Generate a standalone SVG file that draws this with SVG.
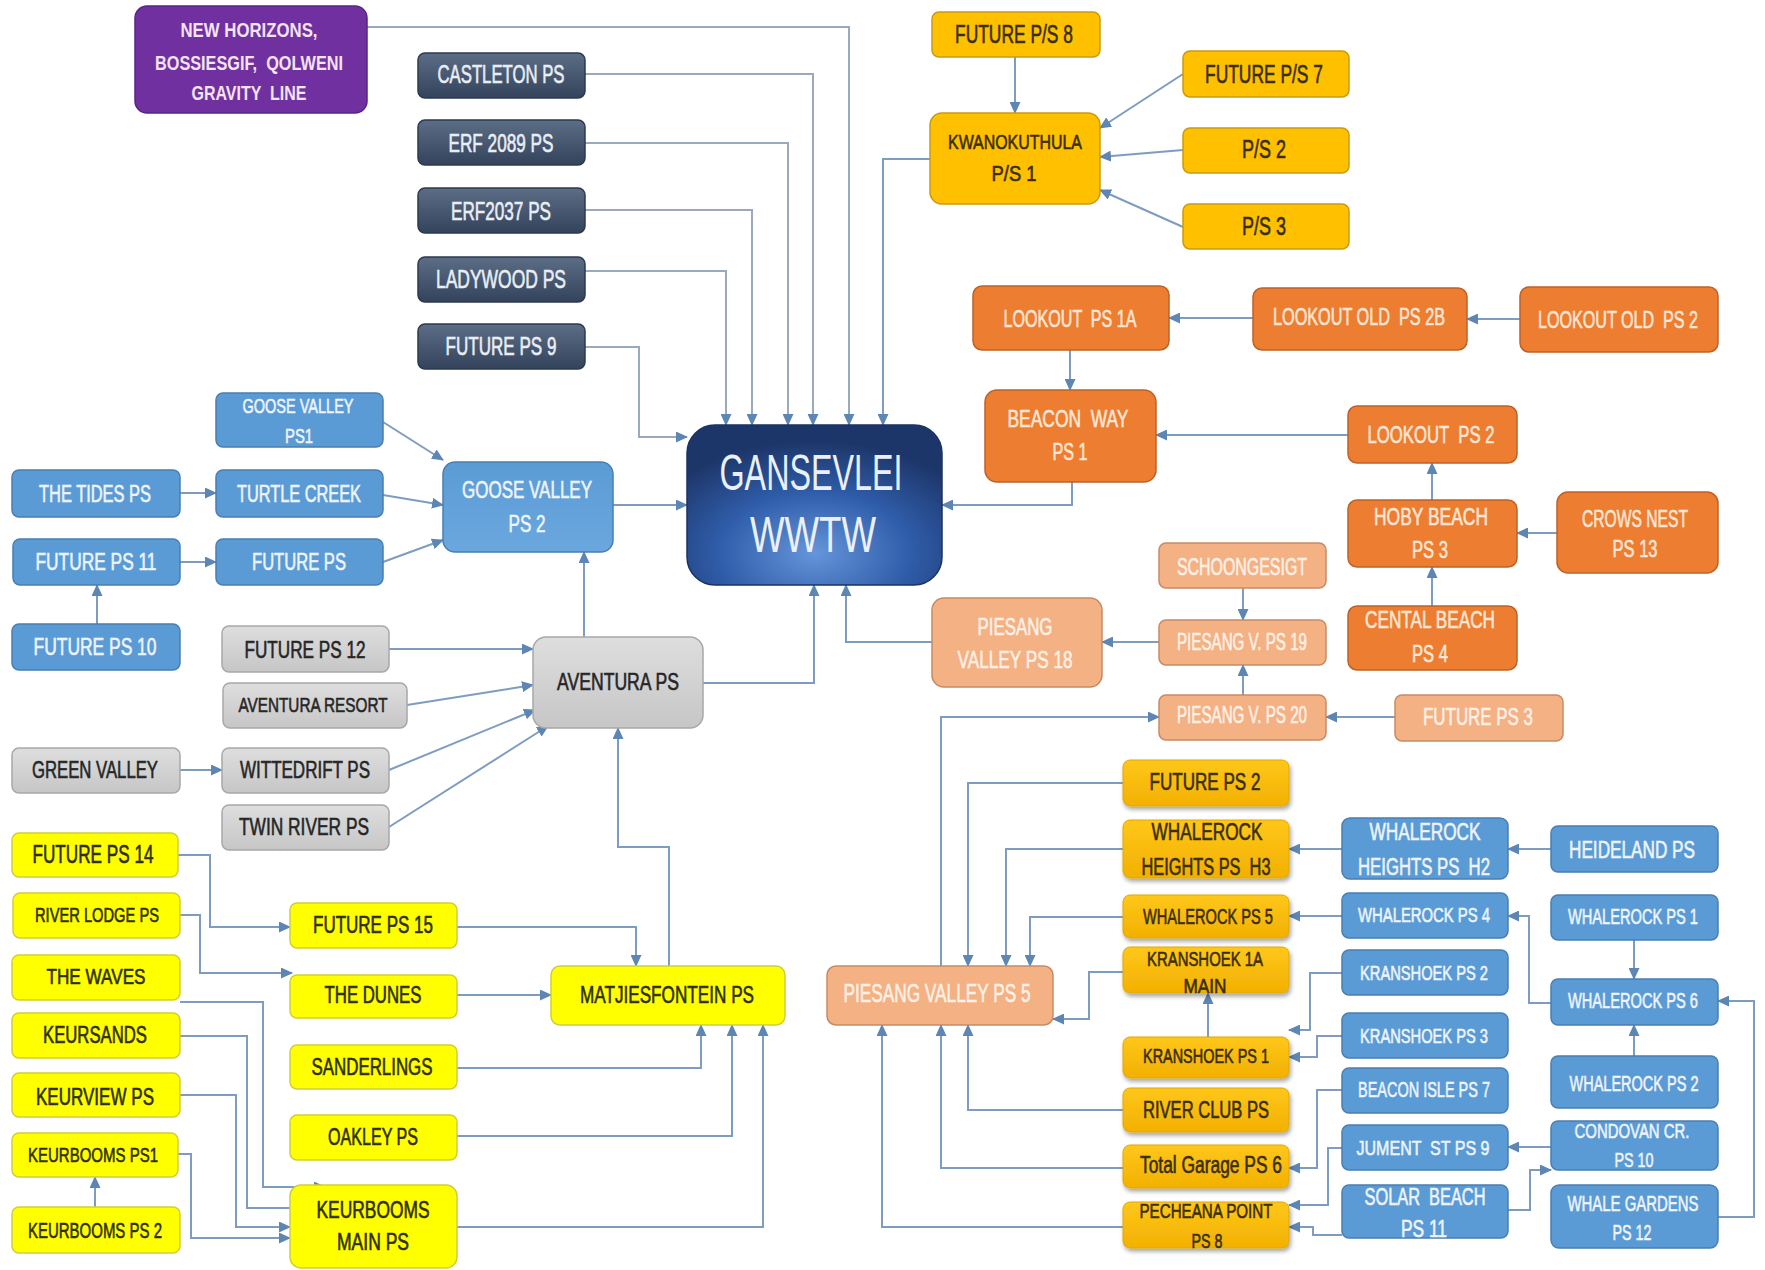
<svg xmlns="http://www.w3.org/2000/svg" width="1765" height="1270" viewBox="0 0 1765 1270">
<defs>
<linearGradient id="gSlate" x1="0" y1="0" x2="0" y2="1"><stop offset="0" stop-color="#5C6D86"/><stop offset="1" stop-color="#33435B"/></linearGradient>
<linearGradient id="gGray" x1="0" y1="0" x2="0" y2="1"><stop offset="0" stop-color="#DEDEDE"/><stop offset="1" stop-color="#C6C6C6"/></linearGradient>
<linearGradient id="gGold" x1="0" y1="0" x2="0" y2="1"><stop offset="0" stop-color="#FFC71A"/><stop offset="1" stop-color="#F2B000"/></linearGradient>
<linearGradient id="gBlue2" x1="0" y1="0" x2="0" y2="1"><stop offset="0" stop-color="#5B9BD5"/><stop offset="1" stop-color="#6AA7DE"/></linearGradient>
<radialGradient id="gMain" cx="0.5" cy="0.8" r="0.7"><stop offset="0" stop-color="#6595DA"/><stop offset="0.55" stop-color="#2F5CA8"/><stop offset="1" stop-color="#1D3669"/></radialGradient>
<filter id="sh" x="-10%" y="-10%" width="130%" height="140%"><feDropShadow dx="1.5" dy="3" stdDeviation="2" flood-color="#000" flood-opacity="0.35"/></filter>
<marker id="ar" markerUnits="userSpaceOnUse" markerWidth="12" markerHeight="11" viewBox="0 0 12 11" refX="11" refY="5.5" orient="auto"><path d="M0,0 L12,5.5 L0,11 z" fill="#5D86B5"/></marker>
<style>
text{font-family:"Liberation Sans",Arial,sans-serif;text-anchor:middle;stroke-width:0.6px}
.c{fill:none;stroke:#7E9CC2;stroke-width:2;marker-end:url(#ar)}
.cg{fill:none;stroke:#9AAABB;stroke-width:2;marker-end:url(#ar)}
.purple{fill:#7030A0;stroke:#5A2487;stroke-width:1.5}
.slate{fill:url(#gSlate);stroke:#2C3A50;stroke-width:1.5}
.gold{fill:#FFC000;stroke:#C99A10;stroke-width:1.5}
.gold2{fill:url(#gGold);stroke:#E0A800;stroke-width:1;filter:url(#sh)}
.orange{fill:#ED7D31;stroke:#BE6128;stroke-width:1.5}
.salmon{fill:#F4B183;stroke:#C58A66;stroke-width:1.5}
.blue{fill:#5B9BD5;stroke:#4A7FB2;stroke-width:1.5}
.blue2{fill:url(#gBlue2);stroke:#4A7FB2;stroke-width:1.5}
.gray{fill:url(#gGray);stroke:#A8A8A8;stroke-width:1.5}
.yellow{fill:#FFFF00;stroke:#CFCF3A;stroke-width:1.5}
.main{fill:url(#gMain);stroke:#1B3263;stroke-width:1.5}
.tl{fill:#F3E3F3;font-weight:bold;stroke:none}
.tw{fill:#E9EEF5;stroke:#E9EEF5}
.td{fill:#3A2E06;stroke:#3A2E06}
.to{fill:#FCE6D6;stroke:#FCE6D6}
.ts{fill:#FDF0E6;stroke:#FDF0E6}
.tb{fill:#EEF4FB;stroke:#EEF4FB}
.tk{fill:#262626;stroke:#262626}
.ty{fill:#2F2F05;stroke:#2F2F05}
.f20{font-size:20px}.f21{font-size:21px}.f22{font-size:22px}.f23{font-size:23px}.f24{font-size:24px}.f25{font-size:25px}
.big{font-size:50px;fill:#EAF0FA;stroke:none}
</style>
</defs>
<rect width="1765" height="1270" fill="#FFFFFF"/>

<g id="connectors">
<path class="cg" d="M367,27 H849 V425"/>
<path class="cg" d="M585,74 H813 V425"/>
<path class="cg" d="M585,143 H788 V425"/>
<path class="cg" d="M585,210 H752 V425"/>
<path class="cg" d="M585,271 H726 V425"/>
<path class="cg" d="M585,347 H639 V437 H687"/>
<path class="c" d="M930,159 H883 V425"/>
<path class="c" d="M1015,57 V113"/>
<path class="c" d="M1183,74 L1100,128"/>
<path class="c" d="M1183,150 L1100,157"/>
<path class="c" d="M1183,227 L1100,190"/>
<path class="c" d="M1520,319 H1467"/>
<path class="c" d="M1253,318 H1169"/>
<path class="c" d="M1070,350 V390"/>
<path class="c" d="M1072,482 V505 H942"/>
<path class="c" d="M1348,435 H1156"/>
<path class="c" d="M1432,500 V463"/>
<path class="c" d="M1557,533 H1517"/>
<path class="c" d="M1432,606 V567"/>
<path class="c" d="M1395,717 H1326"/>
<path class="c" d="M1243,588 V620"/>
<path class="c" d="M1243,695 V665"/>
<path class="c" d="M1159,642 H1102"/>
<path class="c" d="M932,642 H846 V585"/>
<path class="c" d="M941,966 V717 H1159"/>
<path class="c" d="M703,683 H814 V585"/>
<path class="c" d="M584,637 V552"/>
<path class="c" d="M613,505 H687"/>
<path class="c" d="M383,422 L443,460"/>
<path class="c" d="M383,495 L443,505"/>
<path class="c" d="M383,562 L443,540"/>
<path class="c" d="M180,493 H216"/>
<path class="c" d="M180,562 H216"/>
<path class="c" d="M97,624 V585"/>
<path class="c" d="M389,649 H533"/>
<path class="c" d="M407,705 L533,685"/>
<path class="c" d="M389,770 L535,710"/>
<path class="c" d="M389,827 L548,726"/>
<path class="c" d="M180,770 H222"/>
<path class="c" d="M669,966 V847 H618 V728"/>
<path class="c" d="M178,855 H210 V927 H290"/>
<path class="c" d="M180,915 H200 V973 H292"/>
<path class="c" d="M180,1002 H263 V1187 H325"/>
<path class="c" d="M180,1036 H247 V1208 H312"/>
<path class="c" d="M180,1095 H236 V1227 H290"/>
<path class="c" d="M178,1154 H191 V1238 H290"/>
<path class="c" d="M95,1207 V1177"/>
<path class="c" d="M457,927 H636 V966"/>
<path class="c" d="M457,995 H551"/>
<path class="c" d="M457,1068 H701 V1025"/>
<path class="c" d="M457,1136 H732 V1025"/>
<path class="c" d="M457,1227 H763 V1025"/>
<path class="c" d="M1123,783 H968 V966"/>
<path class="c" d="M1123,849 H1006 V966"/>
<path class="c" d="M1123,917 H1030 V966"/>
<path class="c" d="M1123,972 H1089 V1019 H1053"/>
<path class="c" d="M1208,1037 V993"/>
<path class="c" d="M1123,1110 H968 V1025"/>
<path class="c" d="M1123,1168 H941 V1025"/>
<path class="c" d="M1123,1227 H882 V1025"/>
<path class="c" d="M1342,849 H1289"/>
<path class="c" d="M1342,916 H1289"/>
<path class="c" d="M1342,973 H1310 V1030 H1289"/>
<path class="c" d="M1342,1036 H1317 V1057 H1289"/>
<path class="c" d="M1342,1090 H1317 V1168 H1289"/>
<path class="c" d="M1342,1148 H1328 V1205 H1289"/>
<path class="c" d="M1342,1235 H1313 V1227 H1289"/>
<path class="c" d="M1508,1210 H1530 V1170 H1551"/>
<path class="c" d="M1551,1147 H1508"/>
<path class="c" d="M1551,1003 H1529 V916 H1508"/>
<path class="c" d="M1634,940 V979"/>
<path class="c" d="M1634,1056 V1025"/>
<path class="c" d="M1718,1217 H1754 V1001 H1718"/>
<path class="c" d="M1551,849 H1508"/>
</g>

<g id="gansevlei"><rect class="main" x="687" y="425" width="255" height="160" rx="28"/><text class="big" x="811" y="490" textLength="183" lengthAdjust="spacingAndGlyphs">GANSEVLEI</text><text class="big" x="813" y="552" textLength="126" lengthAdjust="spacingAndGlyphs">WWTW</text></g>

<g id="new-horizons"><rect class="purple" x="135" y="6" width="232" height="107" rx="12"/><text class="tl f21" x="249" y="37" textLength="137" lengthAdjust="spacingAndGlyphs">NEW HORIZONS,</text><text class="tl f21" x="249" y="69.5" textLength="188" lengthAdjust="spacingAndGlyphs" xml:space="preserve">BOSSIESGIF,  QOLWENI</text><text class="tl f21" x="249" y="99.5" textLength="115" lengthAdjust="spacingAndGlyphs" xml:space="preserve">GRAVITY  LINE</text></g>

<g id="castleton"><rect class="slate" x="418" y="53" width="167" height="45" rx="7"/><text class="tw f25" x="501" y="83" textLength="127" lengthAdjust="spacingAndGlyphs">CASTLETON PS</text></g>
<g id="erf2089"><rect class="slate" x="418" y="120" width="167" height="45" rx="7"/><text class="tw f25" x="501" y="152" textLength="105" lengthAdjust="spacingAndGlyphs">ERF 2089 PS</text></g>
<g id="erf2037"><rect class="slate" x="418" y="188" width="167" height="45" rx="7"/><text class="tw f25" x="501" y="220" textLength="100" lengthAdjust="spacingAndGlyphs">ERF2037 PS</text></g>
<g id="ladywood"><rect class="slate" x="418" y="257" width="167" height="45" rx="7"/><text class="tw f25" x="501" y="288" textLength="130" lengthAdjust="spacingAndGlyphs">LADYWOOD PS</text></g>
<g id="future-ps9"><rect class="slate" x="418" y="324" width="167" height="45" rx="7"/><text class="tw f25" x="501" y="355" textLength="111" lengthAdjust="spacingAndGlyphs">FUTURE PS 9</text></g>

<g id="future-ps8"><rect class="gold" x="932" y="12" width="168" height="45" rx="7"/><text class="td f25" x="1014" y="43" textLength="118" lengthAdjust="spacingAndGlyphs">FUTURE P/S 8</text></g>
<g id="kwanokuthula"><rect class="gold" x="930" y="113" width="170" height="91" rx="12"/><text class="td f21" x="1015" y="148.5" textLength="134" lengthAdjust="spacingAndGlyphs">KWANOKUTHULA</text><text class="td f22" x="1014" y="181" textLength="45" lengthAdjust="spacingAndGlyphs">P/S 1</text></g>
<g id="future-ps7"><rect class="gold" x="1183" y="51" width="166" height="46" rx="7"/><text class="td f25" x="1264" y="83" textLength="118" lengthAdjust="spacingAndGlyphs">FUTURE P/S 7</text></g>
<g id="ps2"><rect class="gold" x="1183" y="128" width="166" height="45" rx="7"/><text class="td f25" x="1264" y="158" textLength="44" lengthAdjust="spacingAndGlyphs">P/S 2</text></g>
<g id="ps3"><rect class="gold" x="1183" y="204" width="166" height="45" rx="7"/><text class="td f25" x="1264" y="235" textLength="44" lengthAdjust="spacingAndGlyphs">P/S 3</text></g>

<g id="lookout-1a"><rect class="orange" x="973" y="286" width="196" height="64" rx="9"/><text class="to f23" x="1070" y="327" textLength="133" lengthAdjust="spacingAndGlyphs" xml:space="preserve">LOOKOUT  PS 1A</text></g>
<g id="lookout-old-2b"><rect class="orange" x="1253" y="288" width="214" height="62" rx="9"/><text class="to f23" x="1359" y="325" textLength="172" lengthAdjust="spacingAndGlyphs" xml:space="preserve">LOOKOUT OLD  PS 2B</text></g>
<g id="lookout-old-2"><rect class="orange" x="1520" y="287" width="198" height="65" rx="9"/><text class="to f23" x="1618" y="328" textLength="160" lengthAdjust="spacingAndGlyphs" xml:space="preserve">LOOKOUT OLD  PS 2</text></g>
<g id="beacon-way"><rect class="orange" x="985" y="390" width="171" height="92" rx="12"/><text class="to f23" x="1068" y="427" textLength="121" lengthAdjust="spacingAndGlyphs" xml:space="preserve">BEACON  WAY</text><text class="to f23" x="1070" y="460" textLength="35" lengthAdjust="spacingAndGlyphs">PS 1</text></g>
<g id="lookout-ps2"><rect class="orange" x="1348" y="406" width="169" height="57" rx="9"/><text class="to f23" x="1431" y="443" textLength="127" lengthAdjust="spacingAndGlyphs" xml:space="preserve">LOOKOUT  PS 2</text></g>
<g id="hoby-beach"><rect class="orange" x="1348" y="500" width="169" height="67" rx="9"/><text class="to f23" x="1431" y="525" textLength="114" lengthAdjust="spacingAndGlyphs">HOBY BEACH</text><text class="to f23" x="1430" y="558" textLength="36" lengthAdjust="spacingAndGlyphs">PS 3</text></g>
<g id="crows-nest"><rect class="orange" x="1557" y="492" width="161" height="81" rx="11"/><text class="to f23" x="1635" y="527" textLength="106" lengthAdjust="spacingAndGlyphs">CROWS NEST</text><text class="to f23" x="1635" y="557" textLength="45" lengthAdjust="spacingAndGlyphs">PS 13</text></g>
<g id="cental-beach"><rect class="orange" x="1348" y="606" width="169" height="64" rx="9"/><text class="to f23" x="1430" y="628" textLength="130" lengthAdjust="spacingAndGlyphs">CENTAL BEACH</text><text class="to f23" x="1430" y="662" textLength="36" lengthAdjust="spacingAndGlyphs">PS 4</text></g>

<g id="future-ps3"><rect class="salmon" x="1395" y="695" width="168" height="46" rx="7"/><text class="ts f23" x="1478" y="725" textLength="110" lengthAdjust="spacingAndGlyphs">FUTURE PS 3</text></g>
<g id="schoongesigt"><rect class="salmon" x="1159" y="543" width="167" height="45" rx="7"/><text class="ts f23" x="1242" y="575" textLength="130" lengthAdjust="spacingAndGlyphs">SCHOONGESIGT</text></g>
<g id="piesang-19"><rect class="salmon" x="1159" y="620" width="167" height="45" rx="7"/><text class="ts f23" x="1242" y="650" textLength="130" lengthAdjust="spacingAndGlyphs">PIESANG V. PS 19</text></g>
<g id="piesang-20"><rect class="salmon" x="1159" y="695" width="167" height="45" rx="7"/><text class="ts f23" x="1242" y="723" textLength="130" lengthAdjust="spacingAndGlyphs">PIESANG V. PS 20</text></g>
<g id="piesang-18"><rect class="salmon" x="932" y="598" width="170" height="89" rx="12"/><text class="ts f23" x="1015" y="635" textLength="75" lengthAdjust="spacingAndGlyphs">PIESANG</text><text class="ts f23" x="1015" y="668" textLength="115" lengthAdjust="spacingAndGlyphs">VALLEY PS 18</text></g>
<g id="piesang-5"><rect class="salmon" x="827" y="966" width="226" height="59" rx="9"/><text class="ts f25" x="937" y="1002" textLength="187" lengthAdjust="spacingAndGlyphs">PIESANG VALLEY PS 5</text></g>

<g id="future-ps2"><rect class="gold2" x="1123" y="760" width="166" height="46" rx="7"/><text class="td f23" x="1205" y="790" textLength="111" lengthAdjust="spacingAndGlyphs">FUTURE PS 2</text></g>
<g id="whalerock-h3"><rect class="gold2" x="1123" y="820" width="166" height="58" rx="7"/><text class="td f23" x="1207" y="840" textLength="111" lengthAdjust="spacingAndGlyphs">WHALEROCK</text><text class="td f23" x="1206" y="875" textLength="129" lengthAdjust="spacingAndGlyphs" xml:space="preserve">HEIGHTS PS  H3</text></g>
<g id="whalerock-5"><rect class="gold2" x="1123" y="895" width="166" height="43" rx="7"/><text class="td f22" x="1208" y="924" textLength="130" lengthAdjust="spacingAndGlyphs">WHALEROCK PS 5</text></g>
<g id="kranshoek-1a"><rect class="gold2" x="1123" y="947" width="166" height="46" rx="7"/><text class="td f20" x="1205" y="966" textLength="116" lengthAdjust="spacingAndGlyphs">KRANSHOEK 1A</text><text class="td f20" x="1205" y="993" textLength="43" lengthAdjust="spacingAndGlyphs">MAIN</text></g>
<g id="kranshoek-1"><rect class="gold2" x="1123" y="1037" width="166" height="41" rx="7"/><text class="td f20" x="1206" y="1063" textLength="126" lengthAdjust="spacingAndGlyphs">KRANSHOEK PS 1</text></g>
<g id="river-club"><rect class="gold2" x="1123" y="1088" width="166" height="44" rx="7"/><text class="td f23" x="1206" y="1118" textLength="126" lengthAdjust="spacingAndGlyphs">RIVER CLUB PS</text></g>
<g id="total-garage"><rect class="gold2" x="1123" y="1145" width="166" height="43" rx="7"/><text class="td f23" x="1211" y="1173" textLength="142" lengthAdjust="spacingAndGlyphs">Total Garage PS 6</text></g>
<g id="pecheana"><rect class="gold2" x="1123" y="1202" width="166" height="46" rx="7"/><text class="td f21" x="1206" y="1218" textLength="133" lengthAdjust="spacingAndGlyphs">PECHEANA POINT</text><text class="td f21" x="1207" y="1248" textLength="31" lengthAdjust="spacingAndGlyphs">PS 8</text></g>

<g id="whalerock-h2"><rect class="blue" x="1342" y="818" width="166" height="61" rx="8"/><text class="tb f23" x="1425" y="840" textLength="111" lengthAdjust="spacingAndGlyphs">WHALEROCK</text><text class="tb f23" x="1424" y="875" textLength="132" lengthAdjust="spacingAndGlyphs" xml:space="preserve">HEIGHTS PS  H2</text></g>
<g id="whalerock-4"><rect class="blue" x="1342" y="893" width="166" height="45" rx="7"/><text class="tb f21" x="1424" y="922" textLength="132" lengthAdjust="spacingAndGlyphs">WHALEROCK PS 4</text></g>
<g id="kranshoek-2"><rect class="blue" x="1342" y="950" width="166" height="45" rx="7"/><text class="tb f21" x="1424" y="980" textLength="128" lengthAdjust="spacingAndGlyphs">KRANSHOEK PS 2</text></g>
<g id="kranshoek-3"><rect class="blue" x="1342" y="1013" width="166" height="45" rx="7"/><text class="tb f21" x="1424" y="1043" textLength="128" lengthAdjust="spacingAndGlyphs">KRANSHOEK PS 3</text></g>
<g id="beacon-isle"><rect class="blue" x="1342" y="1068" width="166" height="45" rx="7"/><text class="tb f22" x="1424" y="1097" textLength="132" lengthAdjust="spacingAndGlyphs">BEACON ISLE PS 7</text></g>
<g id="jument"><rect class="blue" x="1342" y="1125" width="166" height="45" rx="7"/><text class="tb f21" x="1423" y="1155" textLength="133" lengthAdjust="spacingAndGlyphs" xml:space="preserve">JUMENT  ST PS 9</text></g>
<g id="solar-beach"><rect class="blue" x="1342" y="1185" width="166" height="53" rx="7"/><text class="tb f23" x="1425" y="1205" textLength="121" lengthAdjust="spacingAndGlyphs" xml:space="preserve">SOLAR  BEACH</text><text class="tb f23" x="1424" y="1237" textLength="46" lengthAdjust="spacingAndGlyphs">PS 11</text></g>
<g id="heideland"><rect class="blue" x="1551" y="826" width="167" height="46" rx="7"/><text class="tb f23" x="1632" y="858" textLength="126" lengthAdjust="spacingAndGlyphs">HEIDELAND PS</text></g>
<g id="whalerock-1"><rect class="blue" x="1551" y="895" width="167" height="45" rx="7"/><text class="tb f22" x="1633" y="924" textLength="130" lengthAdjust="spacingAndGlyphs">WHALEROCK PS 1</text></g>
<g id="whalerock-6"><rect class="blue" x="1551" y="979" width="167" height="46" rx="7"/><text class="tb f22" x="1633" y="1008" textLength="130" lengthAdjust="spacingAndGlyphs">WHALEROCK PS 6</text></g>
<g id="whalerock-2"><rect class="blue" x="1551" y="1056" width="167" height="52" rx="7"/><text class="tb f22" x="1634" y="1091" textLength="129" lengthAdjust="spacingAndGlyphs">WHALEROCK PS 2</text></g>
<g id="condovan"><rect class="blue" x="1551" y="1121" width="167" height="49" rx="7"/><text class="tb f21" x="1632" y="1138" textLength="115" lengthAdjust="spacingAndGlyphs">CONDOVAN CR.</text><text class="tb f21" x="1634" y="1167" textLength="39" lengthAdjust="spacingAndGlyphs">PS 10</text></g>
<g id="whale-gardens"><rect class="blue" x="1551" y="1185" width="167" height="63" rx="8"/><text class="tb f22" x="1633" y="1211" textLength="131" lengthAdjust="spacingAndGlyphs">WHALE GARDENS</text><text class="tb f22" x="1632" y="1240" textLength="39" lengthAdjust="spacingAndGlyphs">PS 12</text></g>

<g id="goose-valley-1"><rect class="blue" x="216" y="393" width="167" height="54" rx="7"/><text class="tb f21" x="298" y="413" textLength="111" lengthAdjust="spacingAndGlyphs">GOOSE VALLEY</text><text class="tb f21" x="299" y="443" textLength="28" lengthAdjust="spacingAndGlyphs">PS1</text></g>
<g id="the-tides"><rect class="blue" x="12" y="470" width="168" height="47" rx="7"/><text class="tb f23" x="95" y="502" textLength="112" lengthAdjust="spacingAndGlyphs">THE TIDES PS</text></g>
<g id="turtle-creek"><rect class="blue" x="216" y="470" width="167" height="47" rx="7"/><text class="tb f23" x="299" y="502" textLength="124" lengthAdjust="spacingAndGlyphs">TURTLE CREEK</text></g>
<g id="future-ps11"><rect class="blue" x="13" y="539" width="167" height="46" rx="7"/><text class="tb f23" x="96" y="570" textLength="121" lengthAdjust="spacingAndGlyphs">FUTURE PS 11</text></g>
<g id="future-ps"><rect class="blue" x="216" y="539" width="167" height="46" rx="7"/><text class="tb f23" x="299" y="570" textLength="94" lengthAdjust="spacingAndGlyphs">FUTURE PS</text></g>
<g id="future-ps10"><rect class="blue" x="12" y="624" width="168" height="46" rx="7"/><text class="tb f24" x="95" y="655" textLength="123" lengthAdjust="spacingAndGlyphs">FUTURE PS 10</text></g>
<g id="goose-valley-2"><rect class="blue2" x="443" y="462" width="170" height="90" rx="12"/><text class="tb f23" x="527" y="498" textLength="130" lengthAdjust="spacingAndGlyphs">GOOSE VALLEY</text><text class="tb f23" x="527" y="532" textLength="37" lengthAdjust="spacingAndGlyphs">PS 2</text></g>

<g id="aventura"><rect class="gray" x="533" y="637" width="170" height="91" rx="13"/><text class="tk f23" x="618" y="690" textLength="122" lengthAdjust="spacingAndGlyphs">AVENTURA PS</text></g>
<g id="future-ps12"><rect class="gray" x="222" y="626" width="167" height="46" rx="7"/><text class="tk f23" x="305" y="658" textLength="121" lengthAdjust="spacingAndGlyphs">FUTURE PS 12</text></g>
<g id="aventura-resort"><rect class="gray" x="223" y="683" width="184" height="45" rx="7"/><text class="tk f21" x="313" y="712" textLength="149" lengthAdjust="spacingAndGlyphs">AVENTURA RESORT</text></g>
<g id="green-valley"><rect class="gray" x="12" y="748" width="168" height="45" rx="7"/><text class="tk f23" x="95" y="778" textLength="126" lengthAdjust="spacingAndGlyphs">GREEN VALLEY</text></g>
<g id="wittedrift"><rect class="gray" x="222" y="748" width="167" height="45" rx="7"/><text class="tk f23" x="305" y="778" textLength="130" lengthAdjust="spacingAndGlyphs">WITTEDRIFT PS</text></g>
<g id="twin-river"><rect class="gray" x="222" y="805" width="167" height="45" rx="7"/><text class="tk f23" x="304" y="835" textLength="130" lengthAdjust="spacingAndGlyphs">TWIN RIVER PS</text></g>

<g id="future-ps14"><rect class="yellow" x="12" y="833" width="166" height="44" rx="7"/><text class="ty f25" x="93" y="863" textLength="121" lengthAdjust="spacingAndGlyphs">FUTURE PS 14</text></g>
<g id="river-lodge"><rect class="yellow" x="13" y="893" width="167" height="45" rx="7"/><text class="ty f21" x="97" y="922" textLength="124" lengthAdjust="spacingAndGlyphs">RIVER LODGE PS</text></g>
<g id="the-waves"><rect class="yellow" x="12" y="955" width="168" height="45" rx="7"/><text class="ty f22" x="96" y="984" textLength="99" lengthAdjust="spacingAndGlyphs">THE WAVES</text></g>
<g id="keursands"><rect class="yellow" x="12" y="1013" width="168" height="45" rx="7"/><text class="ty f23" x="95" y="1043" textLength="104" lengthAdjust="spacingAndGlyphs">KEURSANDS</text></g>
<g id="keurview"><rect class="yellow" x="12" y="1073" width="168" height="44" rx="7"/><text class="ty f23" x="95" y="1105" textLength="118" lengthAdjust="spacingAndGlyphs">KEURVIEW PS</text></g>
<g id="keurbooms-1"><rect class="yellow" x="12" y="1133" width="166" height="44" rx="7"/><text class="ty f21" x="93" y="1162" textLength="130" lengthAdjust="spacingAndGlyphs">KEURBOOMS PS1</text></g>
<g id="keurbooms-2"><rect class="yellow" x="12" y="1207" width="168" height="46" rx="7"/><text class="ty f22" x="95" y="1238" textLength="134" lengthAdjust="spacingAndGlyphs">KEURBOOMS PS 2</text></g>
<g id="future-ps15"><rect class="yellow" x="290" y="903" width="167" height="45" rx="7"/><text class="ty f23" x="373" y="933" textLength="120" lengthAdjust="spacingAndGlyphs">FUTURE PS 15</text></g>
<g id="the-dunes"><rect class="yellow" x="290" y="975" width="167" height="43" rx="7"/><text class="ty f23" x="373" y="1003" textLength="97" lengthAdjust="spacingAndGlyphs">THE DUNES</text></g>
<g id="sanderlings"><rect class="yellow" x="290" y="1045" width="167" height="44" rx="7"/><text class="ty f23" x="372" y="1075" textLength="121" lengthAdjust="spacingAndGlyphs">SANDERLINGS</text></g>
<g id="oakley"><rect class="yellow" x="290" y="1115" width="167" height="45" rx="7"/><text class="ty f23" x="373" y="1145" textLength="90" lengthAdjust="spacingAndGlyphs">OAKLEY PS</text></g>
<g id="keurbooms-main"><rect class="yellow" x="290" y="1185" width="167" height="83" rx="11"/><text class="ty f23" x="373" y="1218" textLength="113" lengthAdjust="spacingAndGlyphs">KEURBOOMS</text><text class="ty f23" x="373" y="1250" textLength="72" lengthAdjust="spacingAndGlyphs">MAIN PS</text></g>
<g id="matjiesfontein"><rect class="yellow" x="551" y="966" width="234" height="59" rx="9"/><text class="ty f24" x="667" y="1003" textLength="174" lengthAdjust="spacingAndGlyphs">MATJIESFONTEIN PS</text></g>
</svg>
